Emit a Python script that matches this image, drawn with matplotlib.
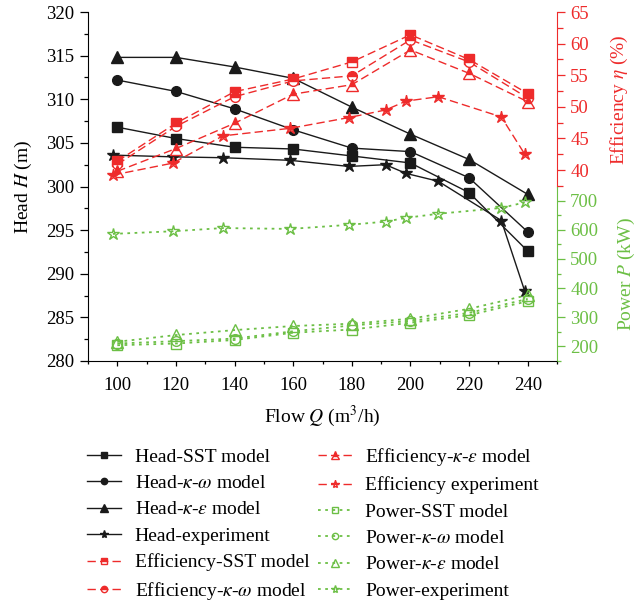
import numpy as np
import matplotlib
matplotlib.use("Agg")
import matplotlib.pyplot as plt
from matplotlib.ticker import MultipleLocator

plt.rcParams['font.family'] = ['Liberation Serif', 'DejaVu Serif']
plt.rcParams['mathtext.fontset'] = 'stix'

RED = '#ee2b2b'
GREEN = '#6cbf45'

# simulated operating points and measured points
flow = [100, 120, 140, 160, 180, 200, 220, 240]
flow_exp = [98.5, 119, 136, 159, 179, 191.5, 198.5, 209.5, 231, 239]

head_sst = [306.8, 305.5, 304.5, 304.3, 303.5, 302.7, 299.3, 292.6]
head_kw = [312.2, 310.9, 308.9, 306.5, 304.4, 304.0, 301.0, 294.8]
head_ke = [314.8, 314.8, 313.7, 312.4, 309.1, 306.0, 303.1, 299.1]
head_exp = [303.6, 303.4, 303.3, 303.0, 302.3, 302.5, 301.5, 300.6, 296.1, 288.0]

eff_sst = [41.4, 47.4, 52.4, 54.4, 57.1, 61.4, 57.5, 52.1]
eff_kw = [40.9, 46.9, 51.6, 54.1, 54.9, 60.6, 57.1, 51.4]
eff_ke = [39.8, 43.4, 47.4, 52.0, 53.5, 59.0, 55.3, 50.8]
eff_exp = [39.2, 41.1, 45.4, 46.6, 48.3, 49.5, 50.9, 51.6, 48.4, 42.5]

pow_sst = [204, 210, 222, 247, 258, 281, 307, 355]
pow_kw = [210, 218, 227, 252, 272, 287, 315, 363]
pow_ke = [216, 239, 256, 270, 278, 295, 329, 376]
pow_exp = [586, 595, 606, 603, 617, 628, 641, 655, 675, 694]

fig = plt.figure(figsize=(6.36, 6.1), dpi=100)
ax = fig.add_axes([0.1384, 0.4082, 0.7374, 0.5721])
ax_eff = ax.twinx()
ax_pow = ax.twinx()

lw = 1.0
ms = 7
handles = []
handles += ax.plot(flow, head_sst, '-', color='#1a1a1a', lw=lw, marker='s', ms=ms, label='Head-SST model')
handles += ax.plot(flow, head_kw, '-', color='#1a1a1a', lw=lw, marker='o', ms=ms, label=r'Head-$\kappa$-$\omega$ model')
handles += ax.plot(flow, head_ke, '-', color='#1a1a1a', lw=lw, marker='^', ms=ms + 1, label=r'Head-$\kappa$-$\varepsilon$ model')
handles += ax.plot(flow_exp, head_exp, '-', color='#1a1a1a', lw=lw, marker='*', ms=ms + 2, label='Head-experiment')

dash = (0, (6, 3))
half = dict(fillstyle='top', markerfacecoloralt='white', markeredgecolor=RED, markerfacecolor=RED)
handles += ax_eff.plot(flow, eff_sst, color=RED, ls=dash, lw=lw, marker='s', ms=ms, label='Efficiency-SST model', **half)
handles += ax_eff.plot(flow, eff_kw, color=RED, ls=dash, lw=lw, marker='o', ms=ms, label=r'Efficiency-$\kappa$-$\omega$ model', **half)
handles += ax_eff.plot(flow, eff_ke, color=RED, ls=dash, lw=lw, marker='^', ms=ms + 1, label=r'Efficiency-$\kappa$-$\varepsilon$ model', **half)
handles += ax_eff.plot(flow_exp, eff_exp, color=RED, ls=dash, lw=lw, marker='*', ms=ms + 2, label='Efficiency experiment', **half)

dot = (0, (1.5, 2.5))
hollow = dict(markerfacecolor='none', markeredgecolor=GREEN, markeredgewidth=1.0)
handles += ax_pow.plot(flow, pow_sst, color=GREEN, ls=dot, lw=1.3, marker='s', ms=ms, label='Power-SST model', **hollow)
handles += ax_pow.plot(flow, pow_kw, color=GREEN, ls=dot, lw=1.3, marker='o', ms=ms, label=r'Power-$\kappa$-$\omega$ model', **hollow)
handles += ax_pow.plot(flow, pow_ke, color=GREEN, ls=dot, lw=1.3, marker='^', ms=ms + 1, label=r'Power-$\kappa$-$\varepsilon$ model', **hollow)
handles += ax_pow.plot(flow_exp, pow_exp, color=GREEN, ls=dot, lw=1.3, marker='*', ms=ms + 2, label='Power-experiment', **hollow)

# head axis
ax.set_xlim(90, 250)
ax.set_ylim(280, 320)
ax.xaxis.set_major_locator(MultipleLocator(20))
ax.xaxis.set_minor_locator(MultipleLocator(10))
ax.yaxis.set_major_locator(MultipleLocator(5))
ax.yaxis.set_minor_locator(MultipleLocator(2.5))
ax.tick_params(axis='y', which='major', direction='out', length=6, width=0.9, pad=4, labelsize=13.5)
ax.tick_params(axis='y', which='minor', direction='out', length=3, width=0.9)
ax.tick_params(axis='x', which='major', direction='out', length=3.5, width=0.9, pad=8, labelsize=13.5)
ax.tick_params(axis='x', which='minor', direction='out', length=2.5, width=0.9)
ax.spines['top'].set_visible(False)
ax.spines['right'].set_visible(False)
ax.set_xlabel(r'Flow $Q$ (m$^3$/h)', fontsize=14, labelpad=7)
ax.set_ylabel(r'Head $H$ (m)', fontsize=14, labelpad=9)

# efficiency axis, upper half of the right side
ax_eff.set_ylim(9.78, 65)
ax_eff.set_yticks([40, 45, 50, 55, 60, 65])
ax_eff.set_yticks(np.arange(37.5, 65, 2.5), minor=True)
ax_eff.spines['right'].set_bounds(37.3, 65)
ax_eff.spines['right'].set_color(RED)
for s in ['top', 'left', 'bottom']:
    ax_eff.spines[s].set_visible(False)
ax_eff.tick_params(axis='y', which='both', colors=RED, labelcolor=RED, direction='out', width=0.9)
ax_eff.tick_params(axis='y', which='major', length=6, labelsize=13.5)
ax_eff.tick_params(axis='y', which='minor', length=4.5)
ax_eff.set_ylabel(r'Efficiency $\eta$ (%)', color=RED, fontsize=14, rotation=90)
ax_eff.yaxis.set_label_coords(1.11, 0.749)

# power axis, lower half of the right side
ax_pow.set_ylim(152, 1347)
ax_pow.set_yticks([200, 300, 400, 500, 600, 700])
ax_pow.set_yticks(np.arange(150, 750, 50), minor=True)
ax_pow.spines['right'].set_bounds(152, 748)
ax_pow.spines['right'].set_color(GREEN)
for s in ['top', 'left', 'bottom']:
    ax_pow.spines[s].set_visible(False)
ax_pow.tick_params(axis='y', which='both', colors=GREEN, labelcolor=GREEN, direction='out', width=0.9)
ax_pow.tick_params(axis='y', which='major', length=6, labelsize=13.5)
ax_pow.tick_params(axis='y', which='minor', length=3)
ax_pow.set_ylabel(r'Power $P$ (kW)', color=GREEN, fontsize=14, rotation=90)
ax_pow.yaxis.set_label_coords(1.125, 0.249)

fig.legend(handles=handles, loc='upper left', bbox_to_anchor=(0.110, 0.298),
           ncol=2, frameon=False, fontsize=14, markerscale=0.65,
           handlelength=1.75, handletextpad=0.67, columnspacing=0.45, labelspacing=0.45)

fig.savefig('out.png', dpi=100)
